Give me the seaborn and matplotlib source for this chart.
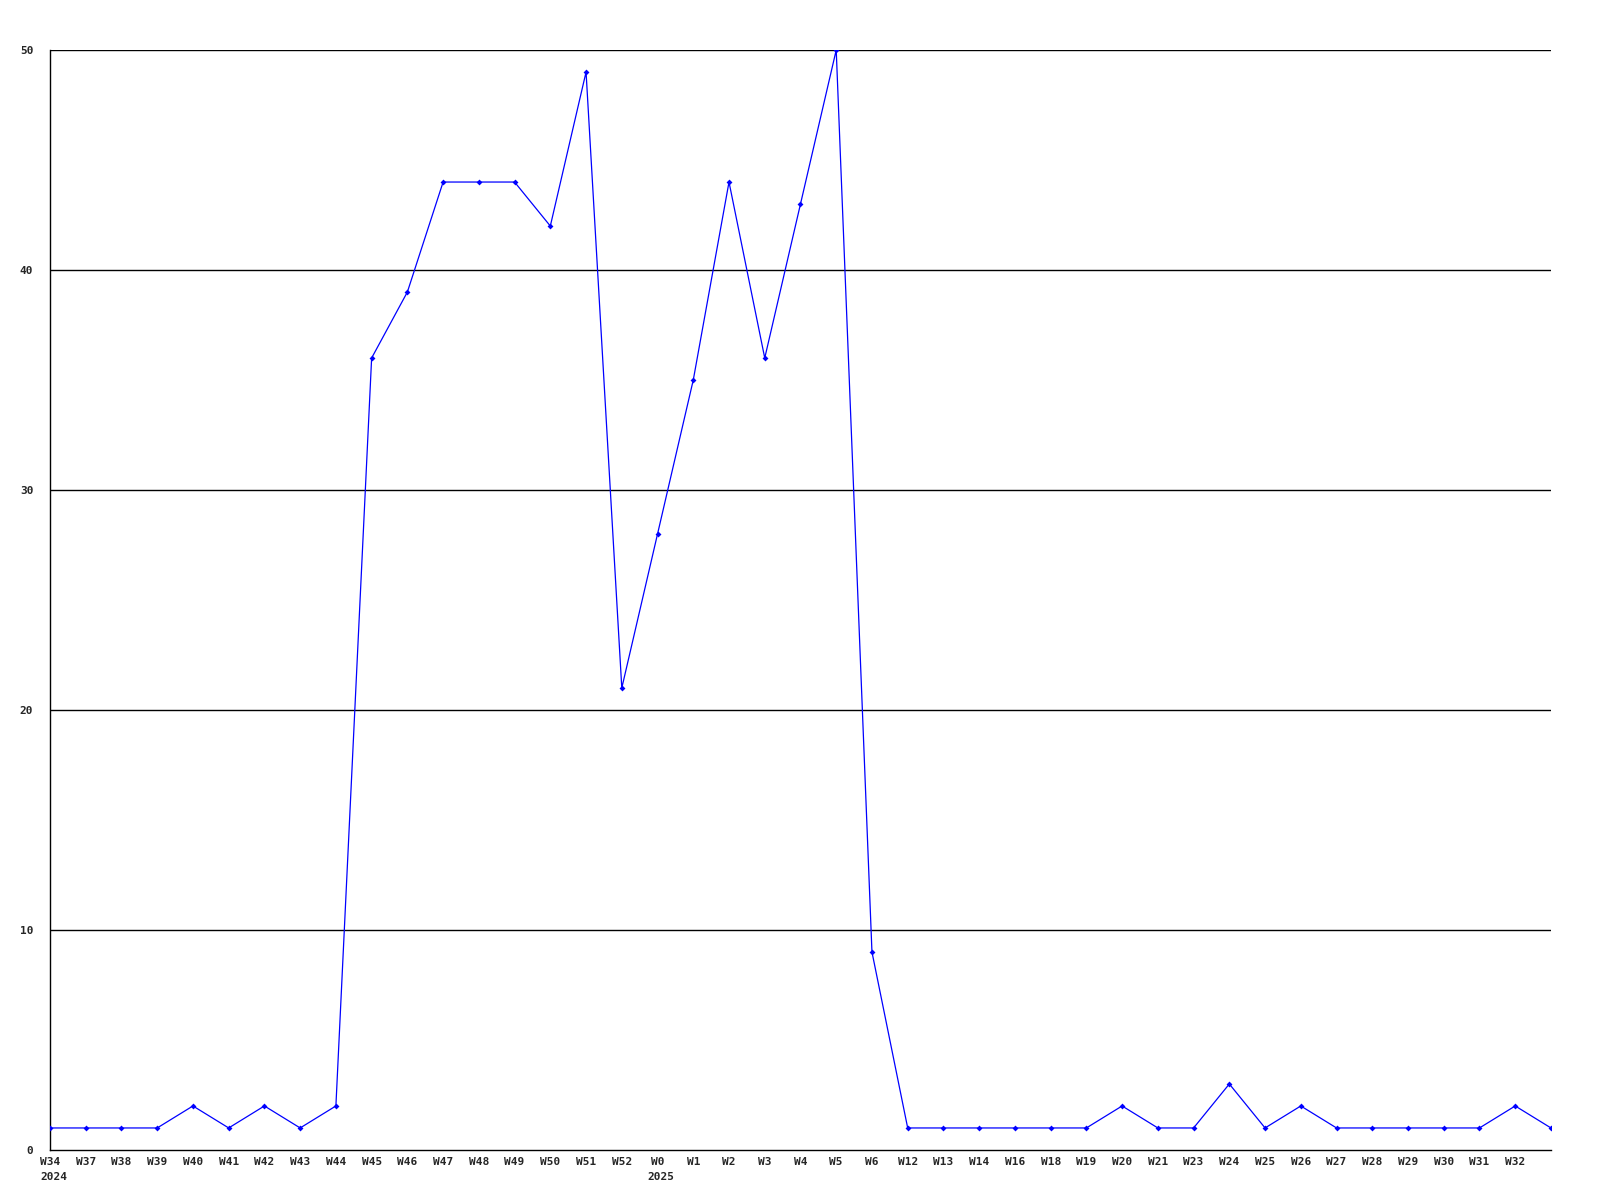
import matplotlib
matplotlib.use("Agg")
import matplotlib.pyplot as plt
import seaborn as sns
import pandas as pd

weeks = ["W34", "W37", "W38", "W39", "W40", "W41", "W42", "W43", "W44", "W45",
         "W46", "W47", "W48", "W49", "W50", "W51", "W52", "W0", "W1", "W2",
         "W3", "W4", "W5", "W6", "W12", "W13", "W14", "W16", "W18", "W19",
         "W20", "W21", "W23", "W24", "W25", "W26", "W27", "W28", "W29", "W30",
         "W31", "W32", ""]
counts = [1, 1, 1, 1, 2, 1, 2, 1, 2, 36,
          39, 44, 44, 44, 42, 49, 21, 28, 35, 44,
          36, 43, 50, 9, 1, 1, 1, 1, 1, 1,
          2, 1, 1, 3, 1, 2, 1, 1, 1, 1,
          1, 2, 1]
years = {"W34": "2024", "W0": "2025"}
y_ticks = [0, 10, 20, 30, 40, 50]

df = pd.DataFrame({"pos": range(len(weeks)), "week": weeks, "count": counts})

sns.set_style("white")
plt.rcParams["font.family"] = ["DejaVu Sans Mono"]
plt.rcParams["font.weight"] = "bold"

fig = plt.figure(figsize=(16, 12), dpi=100)
ax = fig.add_axes([0.03125, 0.0417, 0.9381, 0.9166])

for v in y_ticks[1:]:
    ax.axhline(v, color="black", lw=1.0, zorder=1)

sns.lineplot(data=df, x="pos", y="count", ax=ax, color="#0000ff", lw=0.9,
             marker="D", markersize=3, markeredgewidth=0, zorder=3)

ax.set_xlim(0, len(weeks) - 1)
ax.set_ylim(0, 50)
ax.set_xticks(range(len(weeks) - 1))
ax.set_xticklabels(weeks[:-1], fontsize=8, fontweight="bold")
ax.set_yticks(y_ticks)
ax.set_yticklabels([str(v) for v in y_ticks], fontsize=8, fontweight="bold")
ax.tick_params(axis="both", length=0)
ax.tick_params(axis="x", pad=5)
ax.tick_params(axis="y", pad=12)
ax.set_xlabel("")
ax.set_ylabel("")

for i, w in enumerate(weeks):
    if w in years:
        ax.annotate(years[w], xy=(i, 0), xycoords=("data", "axes fraction"),
                    xytext=(-7, -16), textcoords="offset points",
                    ha="left", va="top", fontsize=8, fontweight="bold")

for side in ["top", "right"]:
    ax.spines[side].set_visible(False)
for side in ["left", "bottom"]:
    ax.spines[side].set_color("black")
    ax.spines[side].set_linewidth(1.0)

fig.savefig("out.png", dpi=100, facecolor="white")
